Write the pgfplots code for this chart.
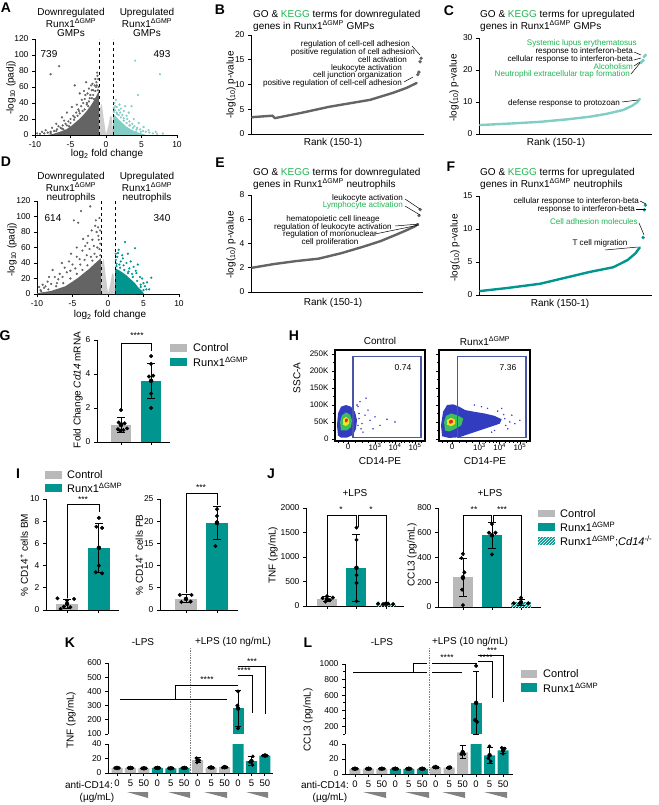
\documentclass[border=0pt]{standalone}
\usepackage{pgfplots}
\pgfplotsset{compat=1.18}
\usepackage{fontspec}
\setmainfont{Liberation Sans}
\usetikzlibrary{patterns}

\definecolor{dgray}{RGB}{100,100,100}
\definecolor{lgray}{RGB}{205,205,205}
\definecolor{bgray}{RGB}{185,185,185}
\definecolor{tealc}{RGB}{0,150,143}
\definecolor{lteal}{RGB}{128,206,196}
\definecolor{kegg}{RGB}{30,180,80}
\definecolor{gatec}{RGB}{75,85,165}
\definecolor{fblue}{RGB}{50,60,190}
\definecolor{fgreen}{RGB}{60,190,90}
\definecolor{fyellow}{RGB}{245,225,40}
\definecolor{fred}{RGB}{230,40,30}
\definecolor{wedgec}{RGB}{130,130,130}

\newcommand{\rx}{Runx1\textsuperscript{ΔGMP}}
\newcommand{\fa}{\fontsize{10}{11}\selectfont}
\newcommand{\fb}{\fontsize{8.5}{9.5}\selectfont}
\newcommand{\fc}{\fontsize{8.1}{9}\selectfont}
\newcommand{\fl}{\fontsize{11}{12}\selectfont}
\newcommand{\Tx}[4][]{\node[inner sep=0pt,#1] at (#2pt,-#3pt) {#4};}

\pgfplotsset{
 gp/.style={scale only axis, anchor=south west, axis x line*=bottom, axis y line*=left,
   tick align=outside, major tick length=3pt, minor tick length=2pt,
   axis line style={line width=0.9pt}, every tick/.style={black, line width=0.9pt},
   tick label style={font=\fontsize{8.5}{9}\selectfont},
   /pgf/number format/assume math mode=true, /pgf/number format/1000 sep={},
   scaled ticks=false, clip=false},
 errb/.style={only marks, mark=none, forget plot, error bars/.cd, y dir=both, y explicit,
   error bar style={draw=black, line width=0.9pt},
   error mark options={draw=black, rotate=90, mark size=#1, line width=0.9pt}},
 errb/.default=4pt,
 dots/.style={only marks, mark=*, mark size=#1, black},
 dots/.default=1.8pt,
 vbar/.style={ybar, bar shift=0pt, bar width=#1, draw=none},
 rk/.style={line width=2.4pt, line join=round, line cap=round},
 flow/.style={anchor=south west, scale only axis, width=90pt, height=91pt,
  xmin=0, xmax=90, ymin=-6, ymax=262, axis line style={line width=1.1pt}, tick pos=left, tick align=outside,
  major tick length=3pt, minor tick length=1.8pt, every tick/.style={black, line width=0.7pt},
  xtick={13,40,60,80}, xticklabels={0,10\textsuperscript{3},10\textsuperscript{4},10\textsuperscript{5}},
  minor xtick={3,8,20,27,33,46,49.5,54,57,66,69.5,74,77,86},
  ytick={0,50,...,250}, minor ytick={25,75,...,225},
  tick label style={font=\fontsize{8}{8.5}\selectfont},
  xticklabel style={inner sep=0.5pt, yshift=1pt}},
}

\begin{document}
\begin{tikzpicture}
\useasboundingbox (0,0) rectangle (658pt,-805pt);

% ---------------- panel letters
\Tx[font=\fontsize{14}{14}\bfseries\selectfont]{6}{8}{A}
\Tx[font=\fontsize{14}{14}\bfseries\selectfont]{220}{10}{B}
\Tx[font=\fontsize{14}{14}\bfseries\selectfont]{449}{11}{C}
\Tx[font=\fontsize{14}{14}\bfseries\selectfont]{6}{162}{D}
\Tx[font=\fontsize{14}{14}\bfseries\selectfont]{220}{163}{E}
\Tx[font=\fontsize{14}{14}\bfseries\selectfont]{451}{167}{F}
\Tx[font=\fontsize{14}{14}\bfseries\selectfont]{5}{336}{G}
\Tx[font=\fontsize{14}{14}\bfseries\selectfont]{294}{336}{H}
\Tx[font=\fontsize{14}{14}\bfseries\selectfont]{18}{474}{I}
\Tx[font=\fontsize{14}{14}\bfseries\selectfont]{271}{474}{J}
\Tx[font=\fontsize{14}{14}\bfseries\selectfont]{70}{643}{K}
\Tx[font=\fontsize{14}{14}\bfseries\selectfont]{308}{643}{L}

% ================= A volcano
\begin{axis}[gp, at={(35pt,-135pt)}, width=142pt, height=96pt, xmin=-10, xmax=10, ymin=0, ymax=120,
  xtick={-10,-5,0,5,10}, ytick={0,20,...,120}]
\addplot[fill=lgray, draw=none] coordinates {(-4,0)(-2.5,1.5)(-1,3)(-1,30)(-0.6,39)(-0.35,22)(0,1)(0.3,10)(0.6,24)(0.85,22)(1,3)(2.5,1.5)(4,0)};
\addplot[fill=dgray, draw=none] coordinates {(-1,0)(-1,55)(-1.3,50)(-1.7,43)(-2.2,36)(-2.8,29)(-3.4,23)(-4,18)(-4.8,12)(-5.6,7)(-6.5,4)(-7.4,1.5)(-8.2,0)};
\addplot[fill=lteal, draw=none] coordinates {(1,0)(1,26)(1.3,24)(1.7,20)(2.2,16)(2.8,11)(3.5,7)(4.2,4)(5,2)(5.6,0)};
\addplot[only marks, mark=*, mark size=0.9pt, dgray] coordinates {(-6.6,86)(-7.8,76)(-4.4,62)(-3.7,52)(-2.8,66)(-2.4,58)(-1.9,64)(-1.5,70)(-1.2,74)(-1.1,70)(-1.35,66)(-1.6,62)(-2.0,56)(-2.2,50)(-2.6,52)(-3.0,45)(-3.2,40)(-2.7,40)(-3.5,36)(-3.9,32)(-4.2,28)(-4.6,24)(-5.0,20)(-5.3,17)(-5.7,14)(-6.1,12)(-6.4,9)(-6.9,7)(-7.3,5)(-7.8,4)(-8.2,3)(-8.7,2)(-9.3,1.5)(-4.8,35)(-5.5,28)(-6.2,22)(-7.0,14)(-3.4,44)(-2.9,50)(-2.3,46)(-1.8,56)(-1.4,60)(-4.1,38)(-5.9,18)(-6.7,11)(-7.6,9)(-8.5,6)(-9.0,4)(-3.8,30)(-4.4,22)(-2.5,36)(-1.7,45)(-5.2,11)(-6.0,7)(-1.25,78)(-2.1,62)(-3.1,55)(-9.7,2)(-1.05,60)(-1.15,56)(-1.3,62)(-1.5,55)(-1.8,50)(-2.0,46)(-2.4,42)(-2.7,38)(-3.0,32)(-3.3,30)(-3.7,27)(-4.0,24)(-4.5,19)(-5.0,15)(-5.5,12)(-6.2,8)(-7.0,5)(-7.8,2.5)};
\addplot[only marks, mark=*, mark size=0.9pt, lteal] coordinates {(4.1,93)(7.6,76)(2.7,36)(2.0,28)(1.2,40)(1.5,35)(1.1,34)(1.8,31)(2.3,25)(2.5,21)(3.0,20)(3.3,17)(3.7,14)(4.0,11)(4.4,9)(4.8,7)(5.2,5)(5.6,4)(6.1,3)(6.6,2)(7.2,1.5)(3.6,36)(4.5,50)(3.2,28)(2.9,24)(1.4,44)(1.6,26)(2.1,33)(3.9,20)(4.6,15)(5.3,10)(6.0,6)(7.0,4)(8.0,2)(2.5,30)(1.9,38)(3.4,12)(4.2,4)(1.3,36)(1.1,29)(1.25,31)(1.5,28)(1.8,25)(2.1,22)(2.5,18)(2.9,15)(3.3,12)(3.8,9)(4.3,7)(4.9,4)};
\addplot[black, dashed, line width=0.8pt] coordinates {(-1,0)(-1,120)};
\addplot[black, dashed, line width=0.8pt] coordinates {(1,0)(1,120)};
\end{axis}
\Tx[font=\fa]{71}{13}{Downregulated}
\Tx[font=\fa]{71}{23}{\rx}
\Tx[font=\fa]{71}{33}{GMPs}
\Tx[font=\fa]{147}{13}{Upregulated}
\Tx[font=\fa]{147}{23}{\rx}
\Tx[font=\fa]{147}{33}{GMPs}
\Tx[font=\fa]{49}{54}{739}
\Tx[font=\fa]{162}{54}{493}
\Tx[font=\fa]{107}{154}{log\textsubscript{2} fold change}
\Tx[font=\fa, rotate=90]{11}{88}{-log\textsubscript{10} (padj)}

% ================= D volcano
\begin{axis}[gp, at={(37pt,-294pt)}, width=142pt, height=93pt, xmin=-10, xmax=10, ymin=0, ymax=120,
  xtick={-10,-5,0,5,10}, ytick={0,20,...,120}]
\addplot[fill=lgray, draw=none] coordinates {(-4,0)(-2.5,1.5)(-1,3)(-1,36)(-0.6,45)(-0.35,25)(0,1)(0.3,12)(0.6,27)(0.85,24)(1,3)(2.5,1.5)(4,0)};
\addplot[fill=dgray, draw=none] coordinates {(-1,0)(-1,46)(-1.4,43)(-2,38)(-2.7,32)(-3.4,27)(-4.2,21)(-5,16)(-6,10)(-7,7)(-8,4)(-9,2.5)(-10,1)(-10,0)};
\addplot[fill=tealc, draw=none] coordinates {(1,0)(1,33)(1.5,31)(2,28)(2.6,24)(3.2,19)(3.8,14)(4.3,8)(4.8,4)(5.1,0)};
\addplot[only marks, mark=*, mark size=0.9pt, dgray] coordinates {(-2.5,113)(-3.8,107)(-4.8,95)(-4.2,92)(-1.7,95)(-1.4,86)(-2.8,75)(-1.2,98)(-1.6,80)(-2.2,70)(-3.2,62)(-3.6,56)(-4.4,48)(-5.5,42)(-6.1,34)(-6.8,26)(-7.5,22)(-8.5,16)(-9.2,12)(-9.7,9)(-1.3,70)(-2.0,62)(-2.6,58)(-3.0,50)(-4.0,45)(-5.0,38)(-5.8,28)(-7.0,19)(-8.0,13)(-9.0,8)(-1.8,88)(-2.3,82)(-1.1,65)(-1.5,60)(-1.2,58)(-1.9,52)(-2.4,48)(-3.3,44)(-3.9,38)(-4.6,33)(-5.3,30)(-6.4,22)(-7.2,14)(-8.8,10)(-9.5,5)(-1.1,82)(-1.35,75)(-2.9,66)(-3.5,71)(-6.5,40)(-7.8,31)(-8.3,22)(-5.2,52)(-4.4,60)(-1.1,50)(-1.6,48)(-2.2,43)(-2.9,37)(-3.6,31)(-4.4,26)(-5.3,20)(-6.3,14)(-7.3,10)(-8.4,6)(-9.4,3.5)};
\addplot[only marks, mark=*, mark size=0.9pt, tealc] coordinates {(2.4,67)(1.5,57)(3.8,59)(2.8,52)(2.1,46)(1.3,48)(3.2,42)(4.2,38)(6.1,21)(5.5,15)(4.8,20)(3.6,35)(1.8,42)(2.6,40)(5.2,10)(5.8,6)(1.1,44)(1.6,38)(2.2,37)(3.0,33)(4.0,27)(4.5,22)(5.0,14)(1.2,39)(2.9,29)(3.4,26)(4.6,12)(5.4,6)(2.0,50)(1.4,53)(1.1,52)(3.9,30)(1.2,36)(1.7,34)(2.3,31)(2.8,27)(3.5,22)(4.1,17)(4.6,9)(5.0,5)};
\addplot[black, dashed, line width=0.8pt] coordinates {(-1,0)(-1,120)};
\addplot[black, dashed, line width=0.8pt] coordinates {(1,0)(1,120)};
\end{axis}
\Tx[font=\fa]{71}{177}{Downregulated}
\Tx[font=\fa]{71}{187}{\rx}
\Tx[font=\fa]{71}{198}{neutrophils}
\Tx[font=\fa]{147}{177}{Upregulated}
\Tx[font=\fa]{147}{187}{\rx}
\Tx[font=\fa]{147}{198}{neutrophils}
\Tx[font=\fa]{53}{218}{614}
\Tx[font=\fa]{162}{218}{340}
\Tx[font=\fa]{110}{315}{log\textsubscript{2} fold change}
\Tx[font=\fa, rotate=90]{12}{250}{-log\textsubscript{10} (padj)}

% ================= B
\begin{axis}[gp, at={(251pt,-134pt)}, width=173pt, height=99pt, xmin=0, xmax=152.5, ymin=0, ymax=20,
  xtick=\empty, ytick={0,5,10,15,20}]
\addplot[dgray, rk] coordinates {(1,3.4)(19,3.7)(21,3.2)(45,4.3)(69,5.5)(87,6.2)(105,6.9)(125,8.3)(137,9.3)(146,10.3)};
\addplot[only marks, mark=*, mark size=1.5pt, dgray] coordinates {(147,12.0)(148,12.5)(149,14.6)(150,15.3)};
\end{axis}
\Tx[font=\fa, anchor=west]{253}{15}{GO \& \textcolor{kegg}{KEGG} terms for downregulated}
\Tx[font=\fa, anchor=west]{253}{26}{genes in \rx{} GMPs}
\Tx[font=\fc, anchor=east]{410}{44}{regulation of cell-cell adhesion}
\Tx[font=\fc, anchor=east]{415}{52}{positive regulation of cell adhesion}
\Tx[font=\fc, anchor=east]{407}{60}{cell activation}
\Tx[font=\fc, anchor=east]{402}{68}{leukocyte activation}
\Tx[font=\fc, anchor=east]{402}{75.5}{cell junction organization}
\Tx[font=\fc, anchor=east]{402}{83}{positive regulation of cell-cell adhesion}
\draw[line width=0.5pt] (412pt,-46pt) -- (420pt,-55pt);
\draw[line width=0.5pt] (404pt,-82pt) -- (413pt,-77pt);
\Tx[font=\fa]{333}{143}{Rank (150-1)}
\Tx[font=\fa, rotate=90]{231}{85}{-log(\textsubscript{10}) p-value}

% ================= C
\begin{axis}[gp, at={(479pt,-134pt)}, width=173pt, height=96pt, xmin=0, xmax=156, ymin=0, ymax=30,
  xtick=\empty, ytick={0,10,20,30}]
\addplot[lteal, rk] coordinates {(1,2.8)(30,3.3)(55,3.8)(80,4.6)(100,5.4)(115,6.3)(130,7.5)(138,8.8)(143,10)(145,11)};
\addplot[only marks, mark=*, mark size=1.5pt, lteal] coordinates {(146,22.3)(147,22.6)(148,23.0)(149,24.2)(150,24.6)};
\end{axis}
\Tx[font=\fa, anchor=west]{480}{15}{GO \& \textcolor{kegg}{KEGG} terms for upregulated}
\Tx[font=\fa, anchor=west]{480}{26}{genes in \rx{} GMPs}
\Tx[font=\fc, anchor=east, text=kegg]{637}{43.5}{Systemic lupus erythematosus}
\Tx[font=\fc, anchor=east]{633}{51.5}{response to interferon-beta}
\Tx[font=\fc, anchor=east]{633}{59}{cellular response to interferon-beta}
\Tx[font=\fc, anchor=east, text=kegg]{633}{66.5}{Alcoholism}
\Tx[font=\fc, anchor=east, text=kegg]{630}{74}{Neutrophil extracellular trap formation}
\Tx[font=\fc, anchor=east]{620}{103}{defense response to protozoan}
\draw[line width=0.5pt] (634pt,-52pt) -- (641pt,-55pt);
\draw[line width=0.5pt] (634pt,-60pt) -- (641pt,-58pt);
\draw[line width=0.5pt] (634pt,-66pt) -- (640pt,-62pt);
\draw[line width=0.5pt] (631pt,-74pt) -- (640pt,-63pt);
\draw[line width=0.5pt] (622pt,-102pt) -- (638pt,-100pt);
\Tx[font=\fa]{556}{143}{Rank (150-1)}
\Tx[font=\fa, rotate=90]{454}{88}{-log(\textsubscript{10}) p-value}

% ================= E
\begin{axis}[gp, at={(251pt,-292pt)}, width=172pt, height=97pt, xmin=0, xmax=152.5, ymin=0, ymax=8,
  xtick=\empty, ytick={0,2,4,6,8}]
\addplot[dgray, rk] coordinates {(1,2.0)(20,2.3)(40,2.55)(60,2.75)(80,3.2)(100,3.75)(115,4.2)(128,4.7)(138,5.1)(145,5.4)(148,5.6)};
\addplot[only marks, mark=*, mark size=1.5pt, dgray] coordinates {(149,6.3)(150,6.8)};
\end{axis}
\Tx[font=\fa, anchor=west]{253}{173}{GO \& \textcolor{kegg}{KEGG} terms for downregulated}
\Tx[font=\fa, anchor=west]{253}{184}{genes in \rx{} neutrophils}
\Tx[font=\fc, anchor=east]{403}{198}{leukocyte activation}
\Tx[font=\fc, anchor=east, text=kegg]{403}{205.5}{Lymphocyte activation}
\Tx[font=\fc]{333}{219.5}{hematopoietic cell lineage}
\Tx[font=\fc]{333}{227}{regulation of leukocyte activation}
\Tx[font=\fc]{330}{234.5}{regulation of mononuclear}
\Tx[font=\fc]{330}{242}{cell proliferation}
\draw[line width=0.5pt] (405pt,-199pt) -- (420pt,-209pt);
\draw[line width=0.5pt] (405pt,-206pt) -- (420pt,-215pt);
\draw[line width=0.5pt] (395pt,-226pt) -- (419pt,-224pt);
\draw[line width=0.5pt] (375pt,-234pt) -- (419pt,-225pt);
\Tx[font=\fa]{333}{303}{Rank (150-1)}
\Tx[font=\fa, rotate=90]{231}{245}{-log(\textsubscript{10}) p-value}

% ================= F
\begin{axis}[gp, at={(479pt,-295pt)}, width=173pt, height=99pt, xmin=0, xmax=156, ymin=0, ymax=15,
  xtick=\empty, ytick={0,5,10,15}]
\addplot[tealc, rk] coordinates {(1,0.6)(25,1.05)(55,1.7)(70,2.3)(100,3.5)(121,4.2)(134,5.3)(141,6.3)(145,7.2)};
\addplot[only marks, mark=*, mark size=1.5pt, tealc] coordinates {(148,8.7)(149,12.9)(150,13.6)};
\end{axis}
\Tx[font=\fa, anchor=west]{480}{173}{GO \& \textcolor{kegg}{KEGG} terms for upregulated}
\Tx[font=\fa, anchor=west]{480}{184}{genes in \rx{} neutrophils}
\Tx[font=\fc, anchor=east]{639}{201}{cellular response to interferon-beta}
\Tx[font=\fc, anchor=east]{635}{209}{response to interferon-beta}
\Tx[font=\fc, anchor=east, text=kegg]{638}{222}{Cell adhesion molecules}
\Tx[font=\fc]{600}{243}{T cell migration}
\draw[line width=0.5pt] (640pt,-201pt) -- (646pt,-204pt);
\draw[line width=0.5pt] (636pt,-209pt) -- (646pt,-209pt);
\draw[line width=0.5pt] (639pt,-223pt) -- (644pt,-235pt);
\draw[line width=0.5pt] (605pt,-250pt) -- (638pt,-247pt);
\Tx[font=\fa]{560}{304}{Rank (150-1)}
\Tx[font=\fa, rotate=90]{455}{248}{-log(\textsubscript{10}) p-value}

% ================= G
\begin{axis}[gp, at={(97pt,-442pt)}, width=73pt, height=102pt, xmin=0.2, xmax=2.63, ymin=0, ymax=6,
  xtick={1,2}, xticklabels={}, ytick={0,2,4,6}]
\addplot[vbar=20pt, fill=bgray] coordinates {(1,1.0)};
\addplot[vbar=20pt, fill=tealc] coordinates {(2,3.6)};
\addplot[errb] coordinates {(1,1.0) +- (0,0.45) (2,3.6) +- (0,1.05)};
\addplot[dots] coordinates {(1.0,1.88)(0.92,1.15)(1.02,1.05)(1.12,1.1)(0.9,0.75)(0.98,0.65)(1.08,0.7)(1.2,0.8)};
\addplot[dots] coordinates {(2.0,5.05)(2.0,4.6)(2.07,3.9)(1.93,3.85)(2.0,2.85)(2.0,2.0)};
\end{axis}
\draw[line width=0.9pt] (121pt,-409pt) -- (121pt,-343pt) -- (151pt,-343pt) -- (151pt,-351pt);
\Tx[font=\fb]{137}{336}{****}
\Tx[font=\fa, rotate=90]{78}{390}{Fold Change \textit{Cd14} mRNA}
\fill[bgray] (170pt,-344pt) rectangle (187pt,-352pt);
\fill[tealc] (170pt,-358pt) rectangle (187pt,-366pt);
\Tx[font=\fl, anchor=west]{193}{348}{Control}
\Tx[font=\fl, anchor=west]{193}{362}{\rx}

% ================= H flow
\begin{axis}[flow, at={(335pt,-441pt)}, yticklabels={0,50K,100K,150K,200K,250K}]
\addplot[fill=fblue, draw=none] coordinates {(3,10)(2,40)(3,75)(6,95)(11,100)(16,95)(20,80)(22,55)(21,30)(18,12)(12,4)(6,4)};
\addplot[fill=fgreen, draw=none] coordinates {(6,25)(5,50)(7,70)(11,78)(15,72)(17,55)(16,35)(12,25)};
\addplot[fill=fyellow, draw=none] coordinates {(8,42)(8,58)(11,65)(14,58)(14,45)(11,38)};
\addplot[fill=fred, draw=none] coordinates {(10,50)(10,58)(12,61)(13,56)(12,49)};
\addplot[only marks, mark=*, mark size=0.5pt, fblue] coordinates {(24,60)(27,45)(30,70)(35,55)(26,30)(40,65)(45,40)(33,85)(52,58)(23,95)(28,20)(38,30)(60,50)(25,110)(31,120)(23,40)(24,75)(22,100)};
\addplot[gatec, line width=1.1pt] coordinates {(18,3)(18,244)(86,244)(86,3)(18,3)};
\end{axis}
\begin{axis}[flow, at={(439pt,-441pt)}, width=91pt, yticklabels={}]
\addplot[fill=fblue, draw=none] coordinates {(3,8)(2,40)(4,80)(8,100)(14,102)(20,95)(26,85)(35,80)(45,75)(55,68)(62,58)(60,45)(50,35)(40,25)(30,15)(20,5)(10,3)};
\addplot[fill=fgreen, draw=none] coordinates {(6,25)(5,50)(7,68)(12,75)(18,70)(24,60)(22,40)(15,28)(10,22)};
\addplot[fill=fyellow, draw=none] coordinates {(8,42)(8,56)(12,62)(16,56)(16,44)(12,38)};
\addplot[fill=fred, draw=none] coordinates {(10,46)(10,54)(13,57)(14,50)(12,45)};
\addplot[only marks, mark=*, mark size=0.5pt, fblue] coordinates {(65,60)(70,50)(66,40)(72,70)(58,82)(48,90)(75,45)(68,30)(42,95)(55,25)(80,55)(35,100)(62,90)(64,72)(52,20)};
\addplot[gatec, line width=1.1pt] coordinates {(18,3)(18,244)(86,244)(86,3)(18,3)};
\end{axis}
\Tx[font=\fa]{380}{341}{Control}
\Tx[font=\fa]{485}{341}{\rx}
\Tx[font=\fb]{403}{368}{0.74}
\Tx[font=\fb]{508}{368}{7.36}
\Tx[font=\fa]{380}{461}{CD14-PE}
\Tx[font=\fa]{485}{461}{CD14-PE}
\Tx[font=\fa, rotate=90]{297}{378}{SSC-A}

% ================= I
\fill[bgray] (45pt,-471pt) rectangle (62pt,-479pt);
\fill[tealc] (45pt,-484pt) rectangle (62pt,-492pt);
\Tx[font=\fl, anchor=west]{67}{475}{Control}
\Tx[font=\fl, anchor=west]{67}{488}{\rx}
\begin{axis}[gp, at={(46pt,-610pt)}, width=73pt, height=111pt, xmin=0.34, xmax=2.63, ymin=0, ymax=10,
  xtick={1,2}, xticklabels={}, ytick={0,2,...,10}]
\addplot[vbar=22pt, fill=bgray] coordinates {(1,0.55)};
\addplot[vbar=22pt, fill=tealc] coordinates {(2,5.6)};
\addplot[errb] coordinates {(1,0.55) +- (0,0.4) (2,5.6) +- (0,2.2)};
\addplot[dots] coordinates {(0.7,1.05)(1.0,0.85)(1.22,1.0)(0.9,0.3)(1.1,0.25)(0.8,0.1)};
\addplot[dots] coordinates {(2.0,8.3)(1.92,7.5)(2.1,7.4)(2.0,4.0)(1.9,3.4)(2.1,3.3)};
\end{axis}
\draw[line width=0.9pt] (67pt,-598pt) -- (67pt,-504pt) -- (99pt,-504pt) -- (99pt,-512pt);
\Tx[font=\fb]{83}{499.5}{***}
\Tx[font=\fa, rotate=90]{24}{555}{\% CD14\textsuperscript{+} cells BM}
\begin{axis}[gp, at={(160pt,-610pt)}, width=78pt, height=111pt, xmin=0.16, xmax=2.68, ymin=0, ymax=25,
  xtick={1,2}, xticklabels={}, ytick={0,5,...,25}]
\addplot[vbar=22pt, fill=bgray] coordinates {(1,2.5)};
\addplot[vbar=22pt, fill=tealc] coordinates {(2,19.6)};
\addplot[errb] coordinates {(1,2.5) +- (0,0.9) (2,19.6) +- (0,3.8)};
\addplot[dots] coordinates {(0.8,3.4)(1.18,3.4)(0.85,1.8)(1.15,1.9)};
\addplot[dots] coordinates {(2.0,22.7)(2.0,21.2)(2.0,19.8)(1.95,14.4)};
\end{axis}
\draw[line width=0.9pt] (186pt,-593pt) -- (186pt,-493pt) -- (217pt,-493pt) -- (217pt,-505pt);
\Tx[font=\fb]{201}{488}{***}
\Tx[font=\fa, rotate=90]{139}{555}{\% CD14\textsuperscript{+} cells PB}

% ================= J
\begin{axis}[gp, at={(306pt,-606pt)}, width=98pt, height=98pt, xmin=0.29, xmax=3.61, ymin=0, ymax=2000,
  xtick={1,2,3}, xticklabels={}, ytick={0,500,...,2000}]
\addplot[vbar=20pt, fill=bgray] coordinates {(1,140)};
\addplot[vbar=20pt, fill=tealc] coordinates {(2,780)};
\addplot[vbar=20pt, fill=tealc, postaction={pattern=north east lines, pattern color=white}] coordinates {(3,45)};
\addplot[errb] coordinates {(1,140) +- (0,45) (2,780) +- (0,680) (3,45) +- (0,8)};
\addplot[dots] coordinates {(0.85,160)(1.0,200)(1.1,120)(1.2,170)(0.95,90)};
\addplot[dots] coordinates {(2,1600)(2,1350)(2,630)(2,470)(2,100)};
\addplot[dots] coordinates {(2.73,50)(2.9,40)(3.07,50)(3.24,40)};
\end{axis}
\draw[line width=0.9pt] (327pt,-596pt) -- (327pt,-515pt) -- (356pt,-515pt) -- (356pt,-527pt);
\draw[line width=0.9pt] (358pt,-527pt) -- (358pt,-515pt) -- (386pt,-515pt) -- (386pt,-602pt);
\Tx[font=\fb]{341}{510}{*}
\Tx[font=\fb]{371}{510}{*}
\Tx[font=\fa]{355}{493}{+LPS}
\Tx[font=\fa, rotate=90]{273}{555}{TNF (pg/mL)}
\begin{axis}[gp, at={(438pt,-607pt)}, width=103pt, height=99pt, xmin=0.14, xmax=3.69, ymin=0, ymax=800,
  xtick={1,2,3}, xticklabels={}, ytick={0,200,...,800}]
\addplot[vbar=20pt, fill=bgray] coordinates {(1,240)};
\addplot[vbar=20pt, fill=tealc] coordinates {(2,580)};
\addplot[vbar=20pt, fill=tealc, postaction={pattern=north east lines, pattern color=white}] coordinates {(3,38)};
\addplot[errb] coordinates {(1,240) +- (0,155) (2,580) +- (0,105) (3,38) +- (0,27)};
\addplot[dots] coordinates {(1,430)(0.95,395)(1.05,280)(1,230)(0.97,140)(1,15)};
\addplot[dots] coordinates {(2,670)(1.9,600)(2.12,600)(2,425)};
\addplot[dots] coordinates {(3.0,75)(2.75,30)(2.95,30)(3.25,30)};
\end{axis}
\draw[line width=0.9pt] (463pt,-556pt) -- (463pt,-515pt) -- (491pt,-515pt) -- (491pt,-522pt);
\draw[line width=0.9pt] (493pt,-522pt) -- (493pt,-515pt) -- (521pt,-515pt) -- (521pt,-598pt);
\Tx[font=\fb]{474}{510}{**}
\Tx[font=\fb]{502}{510}{***}
\Tx[font=\fa]{490}{493}{+LPS}
\Tx[font=\fa, rotate=90]{412}{555}{CCL3 (pg/mL)}
\fill[bgray] (538pt,-510pt) rectangle (555pt,-517pt);
\fill[tealc] (538pt,-523pt) rectangle (555pt,-531pt);
\fill[tealc] (538pt,-537pt) rectangle (555pt,-545pt);
\fill[pattern=north east lines, pattern color=white] (538pt,-537pt) rectangle (555pt,-545pt);
\Tx[font=\fl, anchor=west]{560}{514}{Control}
\Tx[font=\fl, anchor=west]{560}{527}{\rx}
\Tx[font=\fl, anchor=west]{560}{541}{\rx;\textit{Cd14}\textsuperscript{-/-}}

% ================= K
\begin{axis}[gp, at={(108pt,-734pt)}, width=165pt, height=71pt, xmin=0.33, xmax=12.6, ymin=100, ymax=600,
  clip=true, axis x line=none, ytick={100,200,...,600}]
\addplot[vbar=11pt, fill=tealc] coordinates {(10,280)};
\addplot[errb=3pt] coordinates {(10,280) +- (0,130)};
\addplot[dots] coordinates {(10,400)(9.95,300)(10,140)};
\end{axis}
\begin{axis}[gp, at={(108pt,-773pt)}, width=165pt, height=29pt, xmin=0.33, xmax=12.6, ymin=0, ymax=40,
  clip=true, xtick={1,...,12}, xticklabels={0,5,50,0,5,50,0,5,50,0,5,50}, ytick={0,20,40},
  xticklabel style={font=\fontsize{9.5}{10}\selectfont}]
\addplot[vbar=11pt, fill=bgray] coordinates {(1,7)(2,7)(3,6.5)(7,17.6)(8,7.5)(9,8)};
\addplot[vbar=11pt, fill=tealc] coordinates {(4,7)(5,6.5)(6,7)(10,280)(11,16.5)(12,24)};
\addplot[errb=3pt] coordinates {(1,7)+-(0,0.5)(2,7)+-(0,0.5)(3,6.5)+-(0,0.5)(4,7)+-(0,0.7)(5,6.5)+-(0,0.5)(6,7)+-(0,0.5)(7,17.6)+-(0,3.2)(8,7.5)+-(0,1)(9,8)+-(0,1)(11,16.5)+-(0,6)(12,24)+-(0,0.7)};
\addplot[dots=1.6pt] coordinates {(0.85,7)(1,7.2)(1.15,7)(1.85,7)(2,7.3)(2.15,7)(2.85,6.5)(3,6.8)(3.15,6.5)(3.85,7)(4,7.5)(4.15,7)(4.85,6.5)(5,6.8)(5.15,6.5)(5.85,7)(6,7.2)(6.15,7)(6.9,20.5)(7.12,17.5)(6.95,14.5)(7.85,7.5)(8,8.2)(8.15,7.2)(8.85,7.5)(9,8.8)(9.15,7.8)(11.1,23)(10.88,15)(11.08,11)(11.85,24)(12,24.5)(12.15,24)};
\end{axis}
\draw[densely dotted, line width=0.7pt, gray] (190pt,-648pt) -- (190pt,-773pt);
\draw[line width=0.8pt] (120pt,-699pt) -- (227pt,-699pt);
\draw[line width=0.8pt] (175pt,-699pt) -- (175pt,-685pt) -- (238pt,-685pt);
\draw[line width=0.8pt] (238pt,-675pt) -- (252pt,-675pt) -- (252pt,-713pt);
\draw[line width=0.8pt] (238pt,-666pt) -- (265pt,-666pt) -- (265pt,-714pt);
\Tx[font=\fb]{207}{680}{****}
\Tx[font=\fb]{244}{671}{****}
\Tx[font=\fb]{252}{662}{***}
\Tx[font=\fa]{143}{642}{-LPS}
\Tx[font=\fa]{233}{642}{+LPS (10 ng/mL)}
\Tx[font=\fa, rotate=90]{71}{720}{TNF (pg/mL)}
\Tx[font=\fa, anchor=east]{113}{785}{anti-CD14:}
\Tx[font=\fa]{97}{798}{(µg/mL)}
\fill[wedgec] (127pt,-792pt) -- (148pt,-792pt) -- (148pt,-798pt) -- cycle;
\fill[wedgec] (168pt,-792pt) -- (190pt,-792pt) -- (190pt,-798pt) -- cycle;
\fill[wedgec] (204pt,-792pt) -- (227pt,-792pt) -- (227pt,-798pt) -- cycle;
\fill[wedgec] (246pt,-792pt) -- (268pt,-792pt) -- (268pt,-798pt) -- cycle;

% ================= L
\begin{axis}[gp, at={(345pt,-734pt)}, width=168pt, height=70pt, xmin=0.26, xmax=12.74, ymin=100, ymax=1000,
  clip=true, axis x line=none, ytick={200,400,...,1000}, minor ytick={100,300,500,700,900}]
\addplot[vbar=11pt, fill=tealc] coordinates {(10,500)};
\addplot[errb=3pt] coordinates {(10,500) +- (0,405)};
\addplot[dots] coordinates {(10,977)(9.92,280)(10.08,255)};
\end{axis}
\begin{axis}[gp, at={(345pt,-774pt)}, width=168pt, height=30pt, xmin=0.26, xmax=12.74, ymin=0, ymax=40,
  clip=true, xtick={1,...,12}, xticklabels={0,5,50,0,5,50,0,5,50,0,5,50}, ytick={0,20,40},
  xticklabel style={font=\fontsize{9.5}{10}\selectfont}]
\addplot[vbar=11pt, fill=bgray] coordinates {(1,7)(2,7)(3,7)(7,9)(8,8.5)(9,29)};
\addplot[vbar=11pt, fill=tealc] coordinates {(4,7)(5,7)(6,7)(10,500)(11,25)(12,31.5)};
\addplot[errb=3pt] coordinates {(1,7)+-(0,0.5)(2,7)+-(0,0.5)(3,7)+-(0,0.5)(4,7)+-(0,0.5)(5,7)+-(0,0.5)(6,7)+-(0,0.5)(7,9)+-(0,1)(8,8.5)+-(0,0.8)(9,29)+-(0,8.5)(11,25)+-(0,11)(12,31.5)+-(0,4.5)};
\addplot[dots=1.6pt] coordinates {(0.85,7)(1,7.5)(1.15,7)(1.85,7)(2,7.5)(2.15,7)(2.85,7)(3,7.5)(3.15,7)(3.85,7)(4,7.5)(4.15,7)(4.85,7)(5,7.5)(5.15,7)(5.85,7)(6,7.5)(6.15,7)(6.85,9)(7,10)(7.15,8.8)(7.9,8.5)(8.1,9)(8,8)(9,30)(8.88,26.5)(9.12,26.5)(11,37)(10.9,21)(11.08,17)(11.9,35)(12.12,34)(12,27)};
\end{axis}
\draw[densely dotted, line width=0.7pt, gray] (429pt,-648pt) -- (429pt,-774pt);
\draw[line width=0.8pt] (353pt,-672pt) -- (427pt,-672pt);
\draw[line width=0.8pt] (432pt,-672pt) -- (462pt,-672pt);
\draw[line width=0.8pt] (413pt,-672pt) -- (413pt,-663pt) -- (427pt,-663pt);
\draw[line width=0.8pt] (432pt,-663pt) -- (477pt,-663pt);
\draw[line width=0.8pt] (478pt,-661pt) -- (492pt,-661pt) -- (492pt,-698pt);
\draw[line width=0.8pt] (478pt,-655pt) -- (503pt,-655pt) -- (503pt,-702pt);
\Tx[font=\fb]{447}{658}{****}
\Tx[font=\fb]{486}{658}{****}
\Tx[font=\fb]{492}{651}{***}
\Tx[font=\fa]{382}{642}{-LPS}
\Tx[font=\fa]{470}{642}{+LPS (10 ng/mL)}
\Tx[font=\fa, rotate=90]{308}{720}{CCL3 (pg/mL)}
\Tx[font=\fa, anchor=east]{349}{785}{anti-CD14:}
\Tx[font=\fa]{330}{798}{(µg/mL)}
\fill[wedgec] (363pt,-792pt) -- (386pt,-792pt) -- (386pt,-798pt) -- cycle;
\fill[wedgec] (405pt,-792pt) -- (429pt,-792pt) -- (429pt,-798pt) -- cycle;
\fill[wedgec] (442pt,-792pt) -- (465pt,-792pt) -- (465pt,-798pt) -- cycle;
\fill[wedgec] (484pt,-792pt) -- (507pt,-792pt) -- (507pt,-798pt) -- cycle;
\fill[bgray] (521pt,-670pt) rectangle (537pt,-678pt);
\fill[tealc] (521pt,-683pt) rectangle (537pt,-692pt);
\Tx[font=\fl, anchor=west]{543}{674}{Control}
\Tx[font=\fl, anchor=west]{543}{688}{\rx}

\end{tikzpicture}
\end{document}
